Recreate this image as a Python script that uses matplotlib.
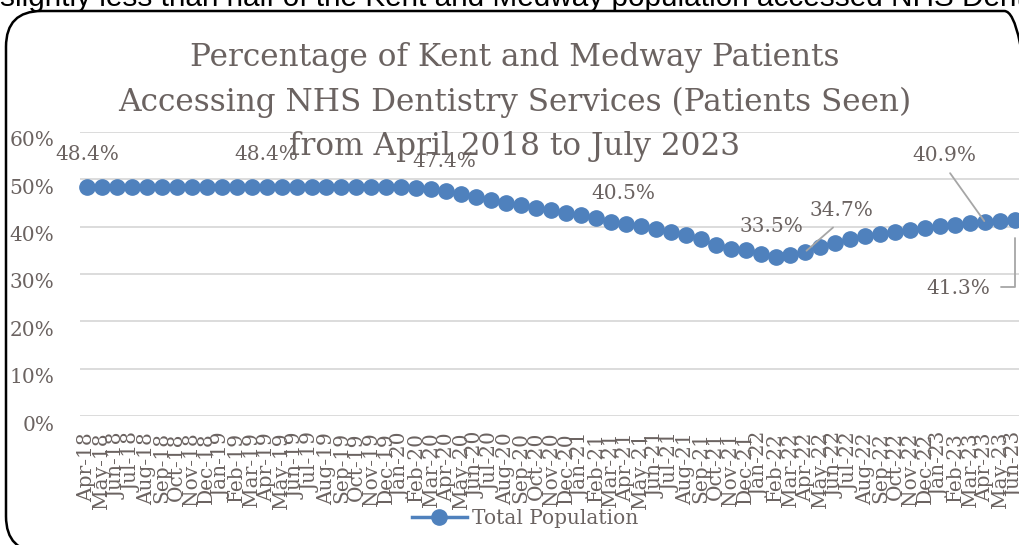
import numpy as np
import pandas as pd
import matplotlib
matplotlib.use("Agg")
import matplotlib.pyplot as plt
from matplotlib.patches import FancyBboxPatch
from matplotlib.transforms import ScaledTranslation

# data
months = list(pd.date_range("2018-04-01", periods=63, freq="MS").strftime("%b-%y"))
pct_seen = [
    48.4, 48.4, 48.4, 48.4, 48.4, 48.4, 48.4, 48.4, 48.4, 48.4, 48.4, 48.4,
    48.4, 48.4, 48.4, 48.4, 48.3, 48.3, 48.3, 48.3, 48.3, 48.3, 48.2, 47.9,
    47.4, 46.8, 46.3, 45.6, 45.0, 44.5, 43.8, 43.4, 42.9, 42.5, 41.7, 41.0,
    40.5, 40.1, 39.5, 38.9, 38.2, 37.3, 36.1, 35.3, 35.0, 34.3, 33.5, 33.9,
    34.7, 35.7, 36.6, 37.3, 38.0, 38.5, 38.9, 39.2, 39.7, 40.1, 40.4, 40.8,
    40.9, 41.1, 41.3,
]
yticks = [0, 10, 20, 30, 40, 50, 60]
series_name = "Total Population"
title_lines = [
    "Percentage of Kent and Medway Patients",
    "Accessing NHS Dentistry Services (Patients Seen)",
    "from April 2018 to July 2023",
]
caption = "slightly less than half of the Kent and Medway population accessed NHS Dentistry services"

# labelled points: index -> (dx px, dy px, leader)
labelled = {
    0: (0, 32, None),
    12: (0, 32, None),
    24: (-2, 30, None),
    36: (-2, 31, None),
    46: (-4, 31, None),
    48: (36, 41, "straight"),
    60: (-41, 67, "straight"),
    62: (-57, -68, "elbow"),
}

BLUE = "#4F81BD"
TXT = "#6B6361"
GRID = "#D9D9D9"
SERIF = "DejaVu Serif"

W, H = 1019, 545
fig = plt.figure(figsize=(W / 100, H / 100), dpi=100)

# rounded chart border, partly outside the crop
box = FancyBboxPatch((6 / W, (H - 552) / H), (1040 - 6) / W, (552 - 11) / H,
                     boxstyle="round,pad=0,rounding_size=0.035",
                     transform=fig.transFigure, fill=False, lw=1.8, ec="black",
                     mutation_aspect=W / H)
fig.patches.append(box)

fig.text(0.0, 1 - 6 / H, caption, family="Liberation Sans", fontsize=21.4,
         color="black", va="baseline", ha="left")

ax = fig.add_axes([79.5 / W, (H - 416.1) / H, 943 / W, (416.1 - 131.7) / H])
x = np.arange(len(pct_seen))
ax.plot(x, pct_seen, color=BLUE, lw=2.5, marker="o", ms=11, mec=BLUE,
        mfc=BLUE, label=series_name, zorder=3, clip_on=False)

ax.set_xlim(-0.5, len(pct_seen) - 0.5)
ax.set_ylim(0, 60)
ax.set_yticks(yticks)
ax.set_yticklabels([f"{v}%" for v in yticks])
ax.set_xticks(x)
ax.set_xticklabels(months, rotation=90)
ax.grid(axis="y", color=GRID, lw=1.3)
ax.set_axisbelow(True)
for s in ax.spines.values():
    s.set_visible(False)
ax.tick_params(axis="both", length=0, colors=TXT)
ax.tick_params(axis="y", pad=18, labelsize=14.5)
ax.tick_params(axis="x", pad=11.5, labelsize=14.5)
for t in ax.get_yticklabels():
    t.set_family(SERIF)
    t.set_transform(t.get_transform() + ScaledTranslation(0, -7 / 100, fig.dpi_scale_trans))
for t in ax.get_xticklabels():
    t.set_family(SERIF)

for i, (dx, dy, leader) in labelled.items():
    txt = f"{pct_seen[i]:.1f}%"
    if leader is None:
        ax.annotate(txt, (x[i], pct_seen[i]), xytext=(dx, dy), textcoords="offset pixels",
                    ha="center", va="center", color=TXT, fontsize=14.5, family=SERIF,
                    annotation_clip=False, zorder=4)
    elif leader == "straight":
        ax.annotate(txt, (x[i], pct_seen[i]), xytext=(dx, dy), textcoords="offset pixels",
                    ha="center", va="center", color=TXT, fontsize=14.5, family=SERIF,
                    annotation_clip=False, zorder=4,
                    arrowprops=dict(arrowstyle="-", color="#A6A6A6", lw=1.3,
                                    relpos=(0.5, 0.0), shrinkA=5, shrinkB=1))
    else:
        ax.annotate(txt, (x[i], pct_seen[i]), xytext=(dx, dy), textcoords="offset pixels",
                    ha="center", va="center", color=TXT, fontsize=14.5, family=SERIF,
                    annotation_clip=False, zorder=4,
                    arrowprops=dict(arrowstyle="-", color="#A6A6A6", lw=1.3,
                                    relpos=(1.0, 0.55), shrinkA=6, shrinkB=13,
                                    connectionstyle="angle,angleA=0,angleB=90,rad=0"))

baselines = [66, 110.5, 155]
for line, yb in zip(title_lines, baselines):
    fig.text(515 / W, 1 - yb / H, line, ha="center", va="baseline",
             family=SERIF, fontsize=22.4, color=TXT, zorder=5)

leg = fig.legend(loc="center", bbox_to_anchor=(525 / W, 1 - 519 / H), frameon=False,
                 handlelength=2.7, handletextpad=0.25, prop={"family": SERIF, "size": 14.5})
for t in leg.get_texts():
    t.set_color(TXT)

fig.savefig("out.png", dpi=100)
